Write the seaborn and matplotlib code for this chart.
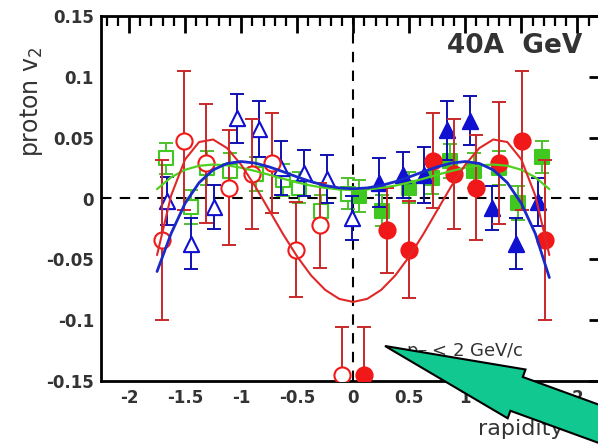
import numpy as np
import pandas as pd
import matplotlib
matplotlib.use("Agg")
import matplotlib.pyplot as plt
import matplotlib.patches as mpatches
from matplotlib.transforms import IdentityTransform
from matplotlib.ticker import MultipleLocator, FixedLocator
import seaborn as sns

# ---------------- data ----------------
# red (filled = measured, open = reflected)
red_filled_x = [0.10, 0.30, 0.50, 0.71, 0.90, 1.10, 1.30, 1.51, 1.71]
red_filled_v = [-0.145, -0.026, -0.042, 0.031, 0.020, 0.009, 0.029, 0.0475, -0.034]
red_filled_e = [0.039, 0.035, 0.040, 0.039, 0.045, 0.043, 0.050, 0.057, 0.066]
red_open_x = [-0.10, -0.30, -0.51, -0.72, -0.90, -1.11, -1.31, -1.51, -1.71]
red_open_v = [-0.145, -0.022, -0.042, 0.029, 0.020, 0.009, 0.029, 0.0475, -0.034]
red_open_e = [0.039, 0.035, 0.039, 0.041, 0.045, 0.047, 0.049, 0.057, 0.066]

# blue
blue_filled_x = [0.23, 0.44, 0.63, 0.84, 1.04, 1.24, 1.45, 1.65]
blue_filled_v = [0.013, 0.019, 0.019, 0.056, 0.064, -0.008, -0.037, -0.003]
blue_filled_e = [0.020, 0.019, 0.023, 0.024, 0.020, 0.018, 0.021, 0.020]
blue_open_x = [-0.01, -0.23, -0.44, -0.64, -0.84, -1.04, -1.24, -1.45, -1.66]
blue_open_v = [-0.016, 0.016, 0.021, 0.025, 0.057, 0.066, -0.007, -0.037, -0.002]
blue_open_e = [0.018, 0.020, 0.019, 0.022, 0.023, 0.020, 0.018, 0.021, 0.020]

# green
green_filled_x = [0.05, 0.26, 0.50, 0.70, 0.86, 1.08, 1.30, 1.47, 1.68]
green_filled_v = [0.002, -0.010, 0.009, 0.017, 0.031, 0.023, 0.025, -0.004, 0.034]
green_filled_e = [0.013, 0.013, 0.013, 0.013, 0.014, 0.014, 0.014, 0.014, 0.013]
green_open_x = [-0.05, -0.29, -0.48, -0.63, -0.87, -1.10, -1.30, -1.45, -1.67]
green_open_v = [0.004, -0.010, 0.009, 0.015, 0.020, 0.023, 0.025, -0.007, 0.033]
green_open_e = [0.013, 0.013, 0.013, 0.013, 0.014, 0.014, 0.014, 0.014, 0.013]

# fit curves
curve_x = [-1.75, -1.625, -1.5, -1.375, -1.25, -1.125, -1.0, -0.875, -0.75, -0.625,
           -0.5, -0.375, -0.25, -0.125, 0.0, 0.125, 0.25, 0.375, 0.5, 0.625, 0.75,
           0.875, 1.0, 1.125, 1.25, 1.375, 1.5, 1.625, 1.75]
red_curve = [-0.0465, 0.0023, 0.0321, 0.0464, 0.0485, 0.0414, 0.0278, 0.0101, -0.0096,
             -0.0294, -0.0477, -0.0633, -0.0751, -0.0825, -0.0850, -0.0825, -0.0751,
             -0.0633, -0.0477, -0.0294, -0.0096, 0.0101, 0.0278, 0.0414, 0.0485,
             0.0464, 0.0321, 0.0023, -0.0465]
blue_curve = [-0.0600, -0.0289, -0.0040, 0.0130, 0.0235, 0.0288, 0.0304, 0.0291, 0.0260,
              0.0220, 0.0177, 0.0138, 0.0107, 0.0087, 0.0080, 0.0087, 0.0107, 0.0138,
              0.0177, 0.0220, 0.0260, 0.0291, 0.0304, 0.0288, 0.0235, 0.0130, -0.0040,
              -0.0289, -0.0650]
green_curve = [0.0077, 0.0174, 0.0236, 0.0269, 0.0279, 0.0273, 0.0253, 0.0226, 0.0195,
               0.0162, 0.0132, 0.0106, 0.0087, 0.0074, 0.0070, 0.0074, 0.0087, 0.0106,
               0.0132, 0.0162, 0.0195, 0.0226, 0.0253, 0.0273, 0.0279, 0.0269, 0.0236,
               0.0174, 0.0077]

x_ticks = [-2, -1.5, -1, -0.5, 0, 0.5, 1, 1.5, 2]
x_tick_labels = ['-2', '-1.5', '-1', '-0.5', '0', '0.5', '1', '1.5', '2']
y_ticks = [-0.15, -0.1, -0.05, 0, 0.05, 0.1, 0.15]
y_tick_labels = ['-0.15', '-0.1', '-0.05', '0', '0.05', '0.1', '0.15']

# ---------------- style ----------------
sns.set_style("white")
plt.rcParams['font.family'] = ['DejaVu Sans']

RED = '#f01818'
RED_BAR = '#c82828'
BLUE = '#1010d0'
BLUE_BAR = '#1010b0'
GREEN = '#40c820'
GREEN_BAR = '#50c030'
TXT = '#333333'

W, H = 598, 448
fig = plt.figure(figsize=(W / 100, H / 100), dpi=100)
fig.patch.set_facecolor('white')
ax = fig.add_axes([101 / W, 1 - 381 / H, 510 / W, 365 / H])
ax.set_xlim(-2.25, 2.30)
ax.set_ylim(-0.15, 0.15)

# dashed zero lines
ax.axhline(0, color='black', lw=1.5, ls=(0, (5, 4)), zorder=1)
ax.axvline(0, color='black', lw=1.5, ls=(0, (5, 4)), zorder=1)

def bars(x, v, e, color, z):
    ax.errorbar(x, v, yerr=e, fmt='none', ecolor=color, elinewidth=1.4,
                capsize=5, capthick=1.4, zorder=z)

def pts(x, v, marker, color, filled, size, z):
    df = pd.DataFrame({'x': x, 'v': v})
    sns.scatterplot(data=df, x='x', y='v', ax=ax, marker=marker, s=size,
                    facecolor=color if filled else 'white', edgecolor=color,
                    linewidth=1.5, zorder=z, legend=False)

# green
bars(green_open_x, green_open_v, green_open_e, GREEN_BAR, 2)
bars(green_filled_x, green_filled_v, green_filled_e, GREEN_BAR, 2)
pts(green_open_x, green_open_v, 's', GREEN, False, 95, 3)
pts(green_filled_x, green_filled_v, 's', GREEN, True, 95, 3)

# blue
bars(blue_open_x, blue_open_v, blue_open_e, BLUE_BAR, 4)
bars(blue_filled_x, blue_filled_v, blue_filled_e, BLUE_BAR, 4)
pts(blue_open_x, blue_open_v, '^', BLUE, False, 120, 5)
pts(blue_filled_x, blue_filled_v, '^', BLUE, True, 120, 5)

# red
bars(red_open_x, red_open_v, red_open_e, RED_BAR, 6)
bars(red_filled_x, red_filled_v, red_filled_e, RED_BAR, 6)
pts(red_open_x, red_open_v, 'o', RED, False, 135, 7)
pts(red_filled_x, red_filled_v, 'o', RED, True, 135, 7)

# curves
cdf = pd.DataFrame({'x': curve_x, 'red': red_curve, 'blue': blue_curve, 'green': green_curve})
sns.lineplot(data=cdf, x='x', y='green', ax=ax, color='#50d020', lw=1.6, zorder=8)
sns.lineplot(data=cdf, x='x', y='red', ax=ax, color='#e02828', lw=1.5, zorder=8)
sns.lineplot(data=cdf, x='x', y='blue', ax=ax, color='#1a2ac8', lw=2.0, zorder=9)

# axes / ticks
for s in ax.spines.values():
    s.set_linewidth(2)
    s.set_color('black')
ax.xaxis.set_major_locator(FixedLocator(x_ticks))
ax.yaxis.set_major_locator(FixedLocator(y_ticks))
ax.set_xticklabels(x_tick_labels)
ax.set_yticklabels(y_tick_labels)
ax.xaxis.set_minor_locator(MultipleLocator(0.1))
ax.yaxis.set_minor_locator(MultipleLocator(0.01))
ax.tick_params(which='both', direction='in', top=True, right=True, color='black')
ax.tick_params(which='major', axis='y', length=16, width=2)
ax.tick_params(which='minor', axis='y', length=9, width=1.6)
ax.tick_params(which='minor', axis='y', right=False)
ax.tick_params(which='major', axis='x', length=12, width=2)
ax.tick_params(which='minor', axis='x', length=7, width=1.6)
ax.tick_params(axis='both', labelsize=12, labelcolor=TXT)
ax.tick_params(axis='y', pad=5)
ax.tick_params(axis='x', pad=6)
for lab in ax.get_xticklabels() + ax.get_yticklabels():
    lab.set_fontweight('bold')

ax.set_xlabel('rapidity', fontsize=16, color=TXT)
ax.xaxis.set_label_coords((521 - 101) / 510, -0.105)
ax.set_ylabel('proton v$_{2}$', fontsize=17, color=TXT)
ax.yaxis.set_label_coords(-0.11, 0.765)

ax.text(1.44, 0.125, '40A  GeV', fontsize=19, fontweight='bold', color=TXT,
        ha='center', va='center', zorder=10)
ax.text(0.47, -0.126, 'p$_{T}$ < 2 GeV/c', fontsize=13, color=TXT,
        ha='left', va='center', zorder=10)

# green block arrow overlay (display pixels; image y converted to bottom-up)
arrow_img = [(385, 346), (525.5, 369.5), (522.8, 377.0), (701.4, 442.0),
             (689.0, 475.8), (510.4, 410.8), (507.7, 418.3)]
arrow = mpatches.Polygon([(px, H - py) for px, py in arrow_img], closed=True,
                         facecolor='#10c890', edgecolor='black', linewidth=1.5,
                         transform=IdentityTransform(), zorder=20)
fig.add_artist(arrow)

fig.savefig('out.png', dpi=100, facecolor='white')
